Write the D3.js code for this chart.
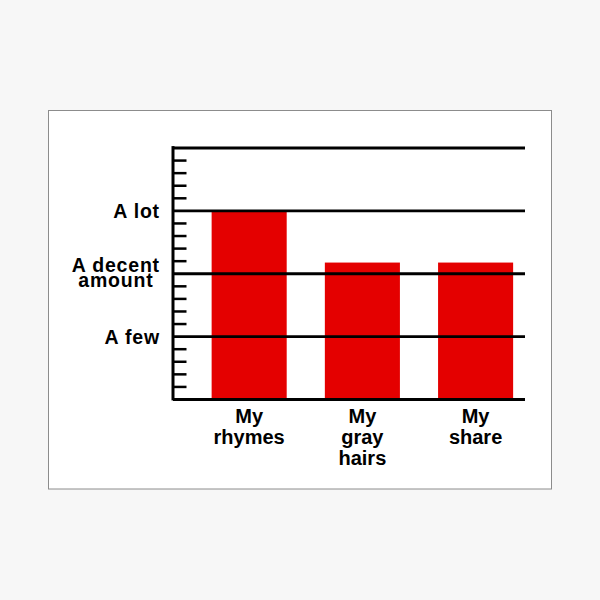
<!DOCTYPE html>
<html>
<head>
<meta charset="utf-8">
<script src="https://d3js.org/d3.v7.min.js"></script>
<style>
  body { margin: 0; background: #f7f7f7; }
  svg { display: block; }
  text { font-family: "Liberation Sans", Arial, sans-serif; font-weight: bold; fill: #000; }
</style>
</head>
<body>
<svg width=600 height=600></svg>

<script>
// bar chart data
var categories = ["My rhymes", "My gray hairs", "My share"];
var values = [3, 2.17, 2.17];

// y axis levels and their names
var levelValues = [1, 2, 3];
var levelLabels = ["A few", "A decent\namount", "A lot"];
var yMax = 4;

var svg = d3.select('svg');

// white card with gray edge
svg.append('rect')
  .attr('x', 48.5).attr('y', 110.5)
  .attr('width', 503).attr('height', 378.5)
  .attr('fill', '#fff')
  .attr('stroke', '#8c8c8c')
  .attr('stroke-width', 1);

var axisX = 173, rightX = 525;

var y = d3.scaleLinear()
  .domain([0, yMax])
  .range([399, 147.5]);

var x = d3.scaleBand()
  .domain(categories)
  .range([axisX, rightX])
  .paddingInner(0.337)
  .paddingOuter(0.223)
  .align(0.765);

// minor ticks every 0.2, pointing into the chart
var minor = d3.range(0, yMax * 5 + 1).map(d => d / 5).filter(d => Math.abs(d - Math.round(d)) > 0.01);

svg.append('g')
  .attr('transform', 'translate(' + axisX + ',0)')
  .call(d3.axisRight(y).tickValues(minor).tickSize(13.5).tickFormat(''))
  .call(g => g.select('.domain').remove())
  .selectAll('line')
    .attr('stroke', '#000')
    .attr('stroke-width', 2.5);

// bars
svg.append('g')
  .selectAll('rect')
  .data(values)
  .enter()
  .append('rect')
    .attr('x', (d, i) => x(categories[i]))
    .attr('width', x.bandwidth())
    .attr('y', d => y(d))
    .attr('height', d => y(0) - y(d))
    .attr('fill', '#e40000');

// gridlines at whole levels (drawn over bars)
svg.append('g')
  .attr('transform', 'translate(' + axisX + ',0)')
  .call(d3.axisRight(y).tickValues(d3.range(0, yMax + 1)).tickSize(rightX - axisX).tickFormat(''))
  .call(g => g.select('.domain').remove())
  .selectAll('line')
    .attr('stroke', '#000')
    .attr('stroke-width', 2.8);

// vertical axis line
svg.append('line')
  .attr('x1', axisX).attr('x2', axisX)
  .attr('y1', y(yMax) - 1.4).attr('y2', y(0) + 1.4)
  .attr('stroke', '#000')
  .attr('stroke-width', 3);

// y labels, multi-line ones centred on their widest line
var lab = svg.append('g')
  .selectAll('text')
  .data(levelValues)
  .enter()
  .append('text')
    .attr('font-size', 19.5)
    .attr('letter-spacing', '0.8px')
    .attr('text-anchor', 'middle');

lab.each(function(d, i) {
  var lines = levelLabels[i].split('\n');
  var t = d3.select(this);
  var y0 = lines.length > 1 ? y(d) - 1.6 : y(d) + 8;
  lines.forEach((s, j) => {
    t.append('tspan').attr('y', y0 + j * 15).text(s);
  });
  var w = d3.max(t.selectAll('tspan').nodes(), n => n.getComputedTextLength());
  t.selectAll('tspan').attr('x', 159.5 - w / 2 + 0.4);
});

// category labels, one word per line
svg.append('g')
  .selectAll('text')
  .data(categories)
  .enter()
  .append('text')
    .attr('font-size', 20)
    .attr('text-anchor', 'middle')
    .each(function(d) {
      var t = d3.select(this);
      d.split(' ').forEach((s, j) => {
        t.append('tspan')
          .attr('x', x(d) + x.bandwidth() / 2)
          .attr('y', 422.7 + j * 21.3)
          .text(s);
      });
    });
</script>
</body>
</html>
